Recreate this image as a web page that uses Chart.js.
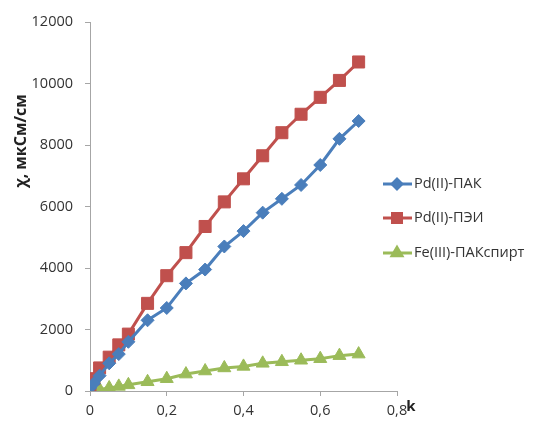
<!DOCTYPE html>
<html>
<head>
<meta charset="utf-8">
<script src="https://cdn.jsdelivr.net/npm/chart.js@4"></script>
<style>
  html, body { margin: 0; padding: 0; background: #fff; }
  #chart { display: block; }
</style>
</head>
<body>
<canvas id="chart" width="535" height="430"></canvas>
<script>
const kValues = [0, 0.01, 0.025, 0.05, 0.075, 0.1, 0.15, 0.2, 0.25, 0.3, 0.35, 0.4, 0.45, 0.5, 0.55, 0.6, 0.65, 0.7];
const pdPak = [100, 250, 500, 900, 1200, 1600, 2300, 2700, 3500, 3950, 4700, 5200, 5800, 6250, 6700, 7350, 8200, 8780];
const pdPei = [150, 400, 750, 1100, 1500, 1850, 2850, 3750, 4500, 5350, 6150, 6900, 7650, 8400, 9000, 9550, 10100, 10700];
const fePak = [0, 20, 50, 100, 150, 200, 300, 400, 550, 650, 750, 800, 900, 950, 1000, 1050, 1150, 1200];
const seriesNames = ['Pd(II)-ПАК', 'Pd(II)-ПЭИ', 'Fe(III)-ПАКспирт'];
const seriesColors = ['#4a7ebb', '#c0504d', '#9bbb59'];
const seriesMarkers = ['rectRot', 'rect', 'triangle'];
const markerSizes = [6.5, 8.5, 7.5];
const yTitle = 'χ, мкСм/см';
const xTitle = 'k';

const FONT = '"Open Sans", "Liberation Sans", sans-serif';
const axisColor = '#a6a6a6';

function toPoints(ys) {
    return kValues.map((k, i) => ({ x: k, y: ys[i] }));
}

const datasets = [pdPak, pdPei, fePak].map((ys, i) => ({
    label: seriesNames[i],
    data: toPoints(ys),
    showLine: true,
    borderColor: seriesColors[i],
    backgroundColor: seriesColors[i],
    borderWidth: 3,
    pointStyle: seriesMarkers[i],
    pointRadius: markerSizes[i],
    pointBorderWidth: 1,
    pointBorderColor: seriesColors[i],
    pointBackgroundColor: seriesColors[i]
}));

// legend, y-title and "k" drawn by hand to follow the original layout
const extrasPlugin = {
    id: 'extras',
    afterDraw(chart) {
        const ctx = chart.ctx;
        ctx.save();

        ctx.fillStyle = '#222';
        ctx.font = 'bold 16px ' + FONT;
        ctx.textAlign = 'center';
        ctx.textBaseline = 'middle';
        ctx.translate(21, 141);
        ctx.rotate(-Math.PI / 2);
        ctx.fillText(yTitle, 0, 0);
        ctx.setTransform(1, 0, 0, 1, 0, 0);

        ctx.font = 'bold 15px ' + FONT;
        ctx.fillText(xTitle, 411, 407);

        const rows = [184, 218, 253];
        rows.forEach((y, i) => {
            ctx.strokeStyle = seriesColors[i];
            ctx.lineWidth = 3;
            ctx.beginPath();
            ctx.moveTo(383, y);
            ctx.lineTo(412, y);
            ctx.stroke();
            ctx.fillStyle = seriesColors[i];
            Chart.helpers.drawPoint(ctx, {
                pointStyle: seriesMarkers[i],
                radius: markerSizes[i] * 0.75,
                rotation: 0,
                borderWidth: 1
            }, 397, y);
            ctx.fill();
            ctx.fillStyle = '#333';
            ctx.font = '14.5px ' + FONT;
            ctx.textAlign = 'left';
            ctx.fillText(seriesNames[i], 414, y);
        });
        ctx.restore();
    }
};

new Chart(document.getElementById('chart'), {
    type: 'scatter',
    data: { datasets },
    options: {
        responsive: false,
        animation: false,
        layout: { padding: { top: 22, right: 138, bottom: 0, left: 0 } },
        plugins: {
            legend: { display: false },
            tooltip: { enabled: false }
        },
        scales: {
            x: {
                type: 'linear',
                min: 0,
                max: 0.8,
                afterFit: s => { s.height = 39; },
                ticks: {
                    stepSize: 0.2,
                    padding: 6,
                    color: '#333',
                    font: { family: FONT, size: 14.5 },
                    callback: v => String(Math.round(v * 10) / 10).replace('.', ',')
                },
                grid: { drawOnChartArea: false, tickLength: 5, color: axisColor },
                border: { color: axisColor, width: 1 }
            },
            y: {
                min: 0,
                max: 12000,
                afterFit: s => { s.width = 90; },
                ticks: {
                    stepSize: 2000,
                    padding: 12,
                    color: '#333',
                    font: { family: FONT, size: 14.5 },
                    callback: v => String(v)
                },
                grid: { drawOnChartArea: false, tickLength: 5, color: axisColor },
                border: { color: axisColor, width: 1 }
            }
        }
    },
    plugins: [extrasPlugin]
});
</script>
</body>
</html>
